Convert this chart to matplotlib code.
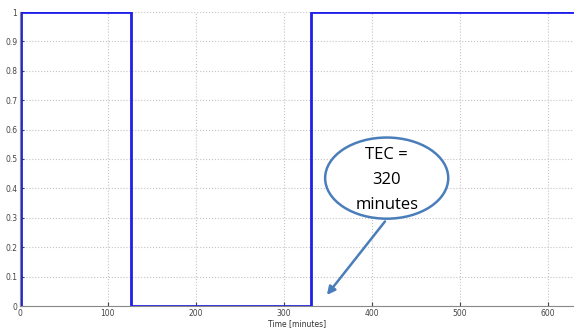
import matplotlib
matplotlib.use("Agg")
import matplotlib.pyplot as plt
from matplotlib.patches import Ellipse

# Signal data (step changes)
time_min = [0, 1, 1, 126, 126, 331, 331, 630]
state = [0, 0, 1, 1, 0, 0, 1, 1]

x_ticks = [0, 100, 200, 300, 400, 500, 600]
y_ticks = [0, 0.1, 0.2, 0.3, 0.4, 0.5, 0.6, 0.7, 0.8, 0.9, 1]
y_labels = ["0", "0.1", "0.2", "0.3", "0.4", "0.5", "0.6", "0.7", "0.8", "0.9", "1"]

callout_text = "TEC =\n320\nminutes"

fig = plt.figure(figsize=(5.74, 3.29), dpi=100)
ax = fig.add_axes([20 / 574, 23 / 329, 1 - 20 / 574, (306 - 12) / 329])

ax.plot(time_min, state, color="#1f1fe8", linewidth=2)

ax.set_xlim(0, 630)
ax.set_ylim(0, 1)
ax.set_xticks(x_ticks)
ax.set_yticks(y_ticks)
ax.set_yticklabels(y_labels)
ax.tick_params(direction="in", labelsize=5.5, colors="#444444", length=3, pad=2)
ax.grid(True, linestyle=":", color="#c4c4c4", linewidth=0.8)
ax.set_xlabel("Time [minutes]", fontsize=5.5, color="#333333", labelpad=1)

for side in ["top", "right"]:
    ax.spines[side].set_visible(False)
for side in ["left", "bottom"]:
    ax.spines[side].set_color("#888888")

# Callout bubble
ell = Ellipse((417, 0.435), 140, 0.276, facecolor="white", edgecolor="#4a7ebb",
              linewidth=1.8, zorder=5)
ax.add_patch(ell)
ax.text(417, 0.43, callout_text, ha="center", va="center", fontsize=12,
        family="Open Sans", linespacing=1.75, color="black", zorder=6)
ax.annotate("", xy=(347, 0.03), xytext=(417, 0.295),
            arrowprops=dict(arrowstyle="-|>", color="#4a7ebb", lw=1.8,
                            mutation_scale=12), zorder=6)

fig.savefig("out.png", dpi=100)
